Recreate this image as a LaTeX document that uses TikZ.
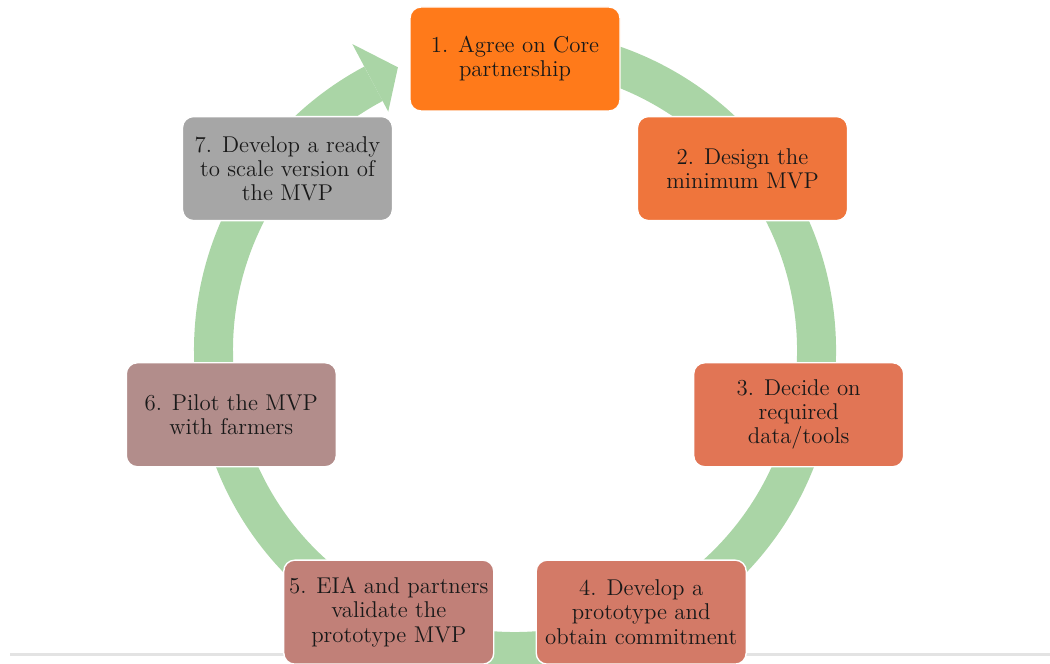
\documentclass[tikz,border=0pt]{standalone}
\usepackage{xcolor}
\usepackage{tikz}
\usetikzlibrary{positioning}
\definecolor{ringgreen}{RGB}{170, 213, 166}
\definecolor{stepone}{RGB}{255, 122, 26}
\definecolor{steptwo}{RGB}{239, 117, 60}
\definecolor{stepthree}{RGB}{225, 117, 85}
\definecolor{stepfour}{RGB}{211, 122, 103}
\definecolor{stepfive}{RGB}{193, 128, 120}
\definecolor{stepsix}{RGB}{178, 141, 139}
\definecolor{stepseven}{RGB}{166, 166, 166}
\tikzset{
  stepbox/.style={rectangle, rounded corners=0.22cm, draw=white, line width=0.8pt,
    minimum width=4.2cm, minimum height=2.08cm, inner sep=1pt, align=center,
    text=black!90, font=\fontsize{13}{13.7}\selectfont}
}

\begin{document}
\begin{tikzpicture}
        \useasboundingbox (0,0) rectangle (21,13.28);
        \clip (0,0) rectangle (21,13.28);

        % Page rule behind the cycle
        \draw[gray!22, line width=0.06cm] (0.2,0.18) -- (21,0.18);

        \begin{scope}[shift={(10.3,6.28)}]
        % Cycle ring, running clockwise and ending in an arrow at the top
        \draw[ringgreen, line width=0.78cm] (100:6.03) arc[start angle=100, end angle=-242, radius=6.03];
        \fill[ringgreen] (118:5.4) -- (118:6.93) -- (112.5:6.12) -- cycle;

        % Steps
        \node[stepbox, fill=stepone] (agree) at (90:5.82) {1. Agree on Core\\partnership};
        \node[stepbox, fill=steptwo] (design) at (38.57:5.82) {2. Design the\\minimum MVP};
        \node[stepbox, fill=stepthree] (decide) at (-12.86:5.82) {3. Decide on\\required\\data/tools};
        \node[stepbox, fill=stepfour] (prototype) at (-64.29:5.82) {4. Develop a\\prototype and\\obtain commitment};
        \node[stepbox, fill=stepfive] (validate) at (-115.71:5.82) {5. EIA and partners\\validate the\\prototype MVP};
        \node[stepbox, fill=stepsix] (pilot) at (-167.14:5.82) {6. Pilot the MVP\\with farmers};
        \node[stepbox, fill=stepseven] (scale) at (141.43:5.82) {7. Develop a ready\\to scale version of\\the MVP};
        \end{scope}
    \end{tikzpicture}
\end{document}
